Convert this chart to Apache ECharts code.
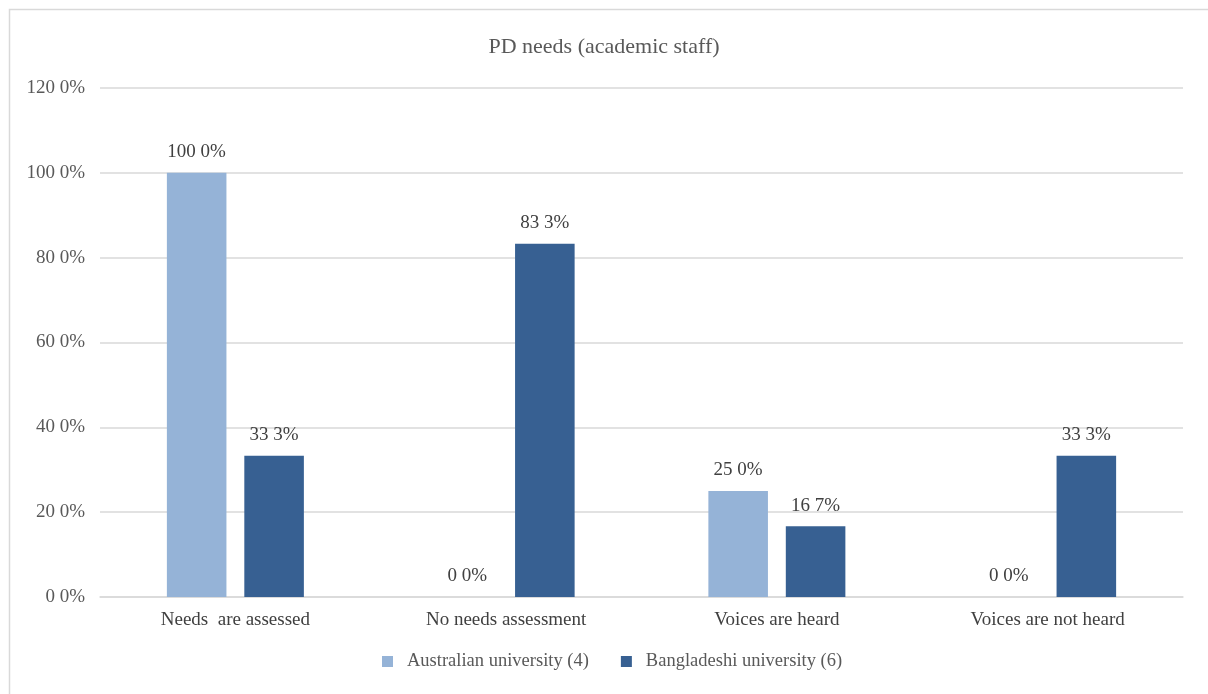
<!DOCTYPE html>
<html>
<head>
<meta charset="utf-8">
<script src="https://cdn.jsdelivr.net/npm/echarts@6/dist/echarts.min.js"></script>
<style>
  html, body { margin: 0; padding: 0; background: #fff; }
  #chart { width: 1208px; height: 694px; }
</style>
</head>
<body>
<div id="chart"></div>
<script>
// PD needs of academic staff, percentage of respondents
const categories = ['Needs  are assessed', 'No needs assessment', 'Voices are heard', 'Voices are not heard'];
const australian = [100.0, 0.0, 25.0, 0.0];
const bangladeshi = [33.3, 83.3, 16.7, 33.3];
const seriesNames = ['Australian university (4)', 'Bangladeshi university (6)'];

const FONT = '"Liberation Serif", "DejaVu Serif", serif';
const fmt = v => Number(v).toFixed(1).replace('.', ' ') + '%';

const chart = echarts.init(document.getElementById('chart'));

const labelStyle = {
  show: true,
  position: 'top',
  distance: 11,
  color: '#404040',
  fontFamily: FONT,
  fontSize: 19,
  formatter: p => fmt(p.value)
};

chart.setOption({
  animation: false,
  backgroundColor: '#ffffff',
  graphic: [{
    type: 'rect',
    shape: { x: 9.5, y: 9.5, width: 1220, height: 700 },
    style: { fill: 'none', stroke: '#d9d9d9', lineWidth: 1.5 },
    silent: true
  }],
  title: {
    text: 'PD needs (academic staff)',
    left: 'center',
    top: 31,
    textStyle: { fontFamily: FONT, fontSize: 22, fontWeight: 'normal', color: '#595959' }
  },
  legend: {
    bottom: 18,
    left: 377,
    itemWidth: 11,
    itemHeight: 11,
    itemGap: 32,
    icon: 'rect',
    textStyle: { fontFamily: FONT, fontSize: 18.5, color: '#595959', padding: [0, 0, 0, 9] },
    data: seriesNames
  },
  grid: { left: 100, right: 25, top: 88, bottom: 97, containLabel: false },
  xAxis: {
    type: 'category',
    data: categories,
    axisLine: { lineStyle: { color: '#d9d9d9', width: 1.5 } },
    axisTick: { show: false },
    axisLabel: { fontFamily: FONT, fontSize: 19, color: '#404040', margin: 14 }
  },
  yAxis: {
    type: 'value',
    min: 0,
    max: 120,
    interval: 20,
    axisLine: { show: false },
    axisTick: { show: false },
    splitLine: { lineStyle: { color: '#d9d9d9', width: 1.5 } },
    axisLabel: { fontFamily: FONT, fontSize: 19, color: '#595959', margin: 15, formatter: v => fmt(v) }
  },
  series: [
    {
      name: seriesNames[0],
      type: 'bar',
      data: australian,
      barWidth: '22%',
      barGap: '30%',
      itemStyle: { color: '#95b3d7' },
      label: labelStyle
    },
    {
      name: seriesNames[1],
      type: 'bar',
      data: bangladeshi,
      barWidth: '22%',
      itemStyle: { color: '#376092' },
      label: labelStyle
    }
  ]
});
</script>
</body>
</html>
